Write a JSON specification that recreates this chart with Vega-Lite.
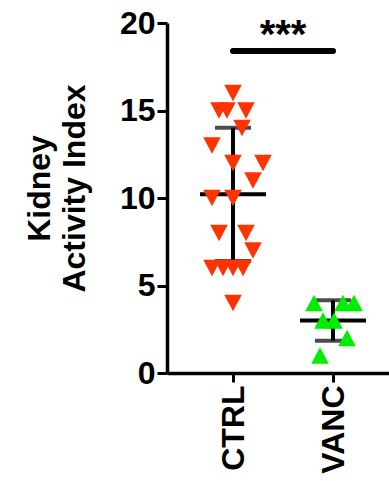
{
  "$schema": "https://vega.github.io/schema/vega-lite/v6.json",
  "width": 222,
  "height": 350,
  "autosize": {"type": "none"},
  "padding": {"left": 167, "top": 23, "right": 0, "bottom": 108},
  "background": "white",
  "config": {
    "view": {"stroke": null},
    "font": "Liberation Sans"
  },
  "datasets": {
    "scores": [
      {"group": "CTRL", "value": 16, "jitter": 0},
      {"group": "CTRL", "value": 15, "jitter": -14},
      {"group": "CTRL", "value": 15, "jitter": -6},
      {"group": "CTRL", "value": 15, "jitter": 13},
      {"group": "CTRL", "value": 14, "jitter": 9},
      {"group": "CTRL", "value": 13, "jitter": -21},
      {"group": "CTRL", "value": 12, "jitter": 0},
      {"group": "CTRL", "value": 12, "jitter": 30},
      {"group": "CTRL", "value": 11, "jitter": 20},
      {"group": "CTRL", "value": 10, "jitter": -21},
      {"group": "CTRL", "value": 10, "jitter": 0},
      {"group": "CTRL", "value": 8, "jitter": -14},
      {"group": "CTRL", "value": 8, "jitter": 13},
      {"group": "CTRL", "value": 7, "jitter": 20},
      {"group": "CTRL", "value": 6, "jitter": -21},
      {"group": "CTRL", "value": 6, "jitter": -10},
      {"group": "CTRL", "value": 6, "jitter": 0},
      {"group": "CTRL", "value": 6, "jitter": 10},
      {"group": "CTRL", "value": 4, "jitter": 0},
      {"group": "VANC", "value": 4, "jitter": -19},
      {"group": "VANC", "value": 4, "jitter": 10},
      {"group": "VANC", "value": 4, "jitter": 21},
      {"group": "VANC", "value": 3, "jitter": -10},
      {"group": "VANC", "value": 3, "jitter": 1},
      {"group": "VANC", "value": 2, "jitter": 14},
      {"group": "VANC", "value": 1, "jitter": -13}
    ],
    "sig": [
      {"from": "CTRL", "to": "VANC", "bar": 18.4, "label": "***", "labelY": 18.6}
    ]
  },
  "encoding": {
    "x": {
      "field": "group",
      "type": "nominal",
      "scale": {"type": "point", "domain": ["CTRL", "VANC"], "padding": 0.61, "align": 0.541},
      "axis": {
        "title": null,
        "labelAngle": -90,
        "labelAlign": "right",
        "labelBaseline": "middle",
        "labelFontSize": 32,
        "labelFontWeight": "bold",
        "labelColor": "black",
        "labelPadding": 3,
        "tickSize": 9,
        "tickWidth": 3,
        "tickColor": "black",
        "domainWidth": 3.5,
        "domainColor": "black",
        "grid": false
      }
    }
  },
  "layer": [
    {
      "data": {"name": "scores"},
      "mark": {"type": "errorbar", "extent": "stdev", "ticks": true, "size": 36, "thickness": 4, "color": "black"},
      "encoding": {
        "y": {
          "field": "value",
          "type": "quantitative",
          "scale": {"domain": [0, 20], "nice": false, "zero": true},
          "axis": {
            "values": [0, 5, 10, 15, 20],
            "title": ["Kidney", "Activity Index"],
            "titleFontSize": 32,
            "titleFontWeight": "bold",
            "titleColor": "black",
            "titleLineHeight": 35,
            "titlePadding": 28,
            "titleY": 165,
            "labelFontSize": 32,
            "labelFontWeight": "bold",
            "labelColor": "black",
            "labelPadding": 2,
            "tickSize": 10,
            "tickWidth": 3,
            "tickColor": "black",
            "domainWidth": 3.5,
            "domainColor": "black",
            "grid": false
          }
        }
      }
    },
    {
      "data": {"name": "scores"},
      "mark": {"type": "tick", "orient": "horizontal", "size": 66, "thickness": 4, "color": "black"},
      "encoding": {
        "y": {"aggregate": "mean", "field": "value", "type": "quantitative"}
      }
    },
    {
      "data": {"name": "scores"},
      "mark": {"type": "point", "filled": true, "opacity": 1, "size": 310, "strokeWidth": 0},
      "encoding": {
        "y": {"field": "value", "type": "quantitative"},
        "xOffset": {"field": "jitter", "type": "quantitative", "scale": {"domain": [-50, 50], "range": [-50, 50]}},
        "color": {"field": "group", "type": "nominal", "scale": {"domain": ["CTRL", "VANC"], "range": ["#FF3300", "#00EE00"]}, "legend": null},
        "shape": {"field": "group", "type": "nominal", "scale": {"domain": ["CTRL", "VANC"], "range": ["M-1,-0.95L1,-0.95L0,0.95Z", "M-1,0.95L1,0.95L0,-0.95Z"]}, "legend": null}
      }
    },
    {
      "data": {"name": "sig"},
      "mark": {"type": "rule", "strokeWidth": 6, "strokeCap": "round", "color": "black"},
      "encoding": {
        "x": {"field": "from", "type": "nominal"},
        "x2": {"field": "to"},
        "y": {"field": "bar", "type": "quantitative"}
      }
    },
    {
      "data": {"name": "sig"},
      "mark": {"type": "text", "dx": 50, "fontSize": 40, "fontWeight": "bold", "baseline": "alphabetic", "align": "center", "color": "black"},
      "encoding": {
        "x": {"field": "from", "type": "nominal"},
        "y": {"field": "labelY", "type": "quantitative"},
        "text": {"field": "label"}
      }
    }
  ]
}
